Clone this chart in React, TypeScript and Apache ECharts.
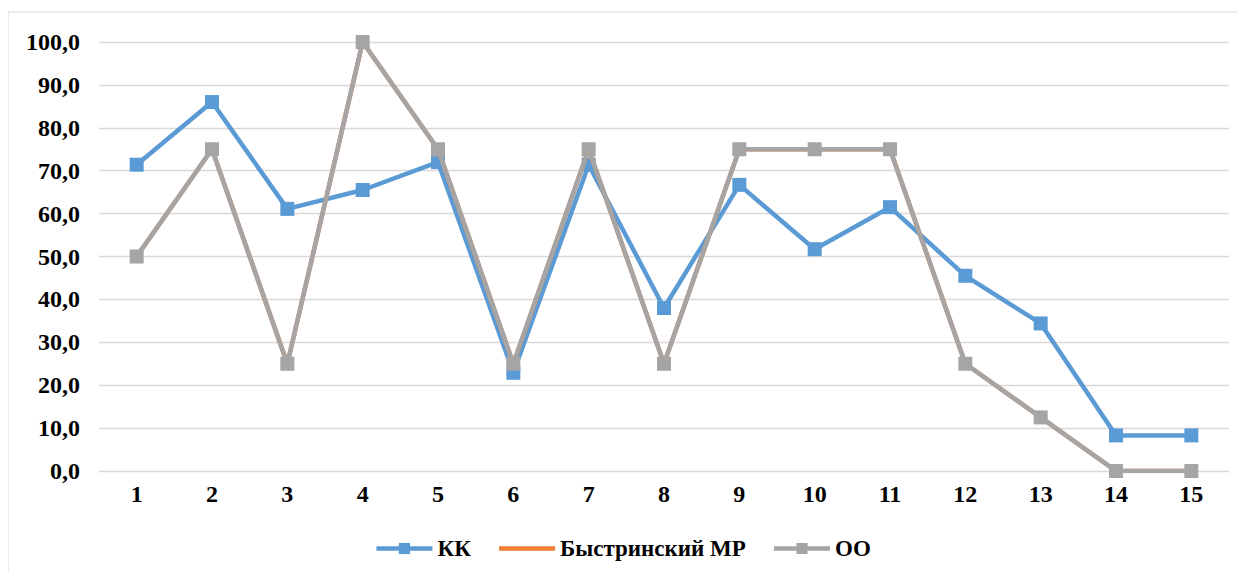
import React, { useEffect, useRef } from "react";
import * as echarts from "echarts";

const categories = ["1", "2", "3", "4", "5", "6", "7", "8", "9", "10", "11", "12", "13", "14", "15"];
const kk = [71.4, 86.0, 61.1, 65.5, 72.0, 22.9, 71.4, 38.0, 66.7, 51.7, 61.5, 45.5, 34.4, 8.3, 8.3];
const bystrinsky = [50, 75, 25, 100, 75, 25, 75, 25, 75, 75, 75, 25, 12.5, 0, 0];
const oo = [50, 75, 25, 100, 75, 25, 75, 25, 75, 75, 75, 25, 12.5, 0, 0];

const FONT = "'Liberation Serif', 'Times New Roman', serif";

export default function App() {
  const ref = useRef<HTMLDivElement>(null);
  useEffect(() => {
    if (!ref.current) return;
    const chart = echarts.init(ref.current, undefined, { renderer: "svg" });
    chart.setOption({
      animation: false,
      backgroundColor: "#ffffff",
      textStyle: { fontFamily: FONT },
      graphic: [
        {
          type: "rect",
          shape: { x: 8, y: 12, width: 1250, height: 580 },
          style: { fill: "none", stroke: "#d9d9d9", lineWidth: 1 },
          silent: true,
          z: -10,
        },
      ],
      grid: { left: 99, right: 16, top: 42, bottom: 110, containLabel: false },
      legend: {
        bottom: 16,
        left: "center",
        itemWidth: 56,
        itemHeight: 14,
        itemGap: 26,
        lineStyle: { width: 4.5 },
        textStyle: { fontFamily: FONT, fontWeight: "bold", fontSize: 23, color: "#000" },
        data: [
          { name: "КК" },
          { name: "Быстринский МР", itemStyle: { opacity: 0 } },
          { name: "ОО" },
        ],
      },
      xAxis: {
        type: "category",
        data: categories,
        boundaryGap: true,
        axisLine: { show: false },
        axisTick: { show: false },
        axisLabel: { fontFamily: FONT, fontWeight: "bold", fontSize: 24, color: "#000", margin: 11 },
      },
      yAxis: {
        type: "value",
        min: 0,
        max: 100,
        interval: 10,
        axisLine: { show: false },
        axisTick: { show: false },
        splitLine: { lineStyle: { color: "#d9d9d9", width: 1.3 } },
        axisLabel: {
          fontFamily: FONT,
          fontWeight: "bold",
          fontSize: 24,
          color: "#000",
          margin: 19,
          formatter: (v: number) => v.toFixed(1).replace(".", ","),
        },
      },
      series: [
        {
          name: "КК",
          type: "line",
          data: kk,
          symbol: "rect",
          symbolSize: 14,
          color: "#5b9bd5",
          lineStyle: { width: 4.5, color: "#5b9bd5" },
          itemStyle: { color: "#5b9bd5" },
          z: 2,
        },
        {
          name: "Быстринский МР",
          type: "line",
          data: bystrinsky,
          symbol: "none",
          color: "#ed7d31",
          lineStyle: { width: 4.5, color: "#ed7d31" },
          itemStyle: { color: "#ed7d31" },
          z: 3,
        },
        {
          name: "ОО",
          type: "line",
          data: oo,
          symbol: "rect",
          symbolSize: 14,
          color: "#a5a5a5",
          lineStyle: { width: 4.5, color: "#a5a5a5" },
          itemStyle: { color: "#a5a5a5" },
          z: 4,
        },
      ],
    });
    return () => chart.dispose();
  }, []);
  return <div ref={ref} style={{ width: 1245, height: 581, margin: -8 }} />;
}
